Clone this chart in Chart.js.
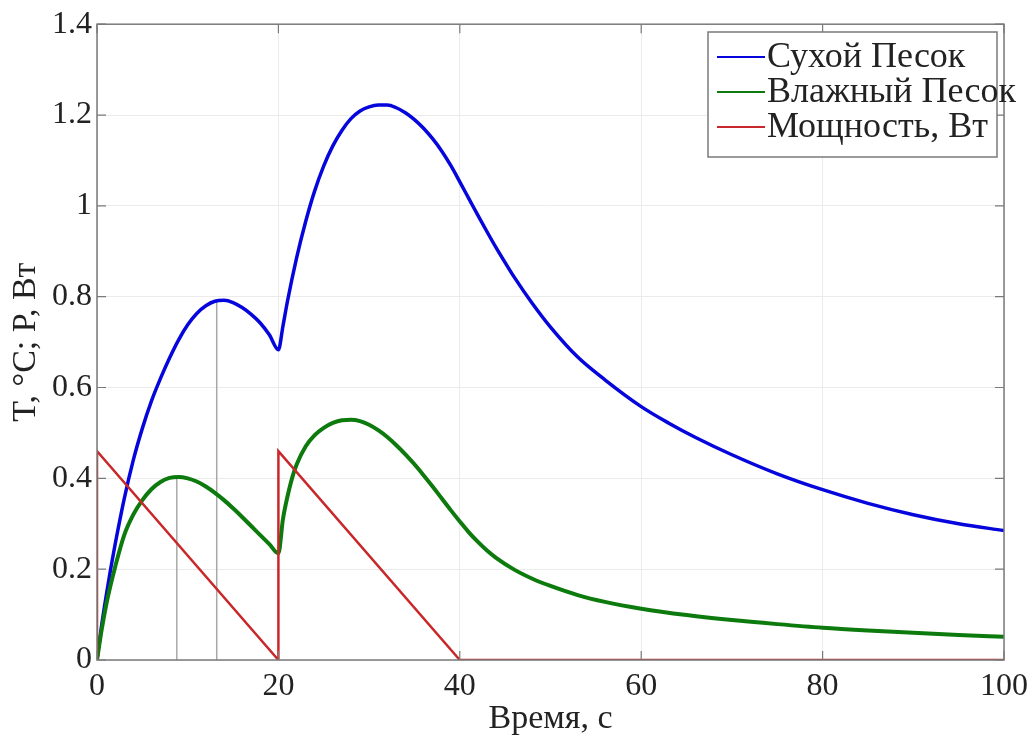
<!DOCTYPE html>
<html>
<head>
<meta charset="utf-8">
<script src="https://cdn.jsdelivr.net/npm/chart.js@4.4.0/dist/chart.umd.min.js"></script>
<style>
  body { margin: 0; background: #fff; }
  #wrap { width: 1036px; height: 736px; position: relative; }
</style>
</head>
<body>
<div id="wrap"><canvas id="chart"></canvas></div>
<script>
// series data
const dryTime = [0, 0.5, 1, 1.5, 2, 3, 4, 5, 6, 7, 8, 9, 10, 11, 12, 13, 14, 15, 16, 17, 18, 19, 20,
  20.5, 21, 22, 23, 24, 25, 26, 27, 28, 29, 30, 31, 32, 33, 34, 35, 36, 37, 38, 39, 40,
  41, 42, 43, 44, 45, 46, 48, 50, 53, 56, 60, 63, 66, 70, 75, 80, 85, 90, 95, 100];
const dryTemp = [0, 0.075, 0.14, 0.2, 0.255, 0.355, 0.44, 0.51, 0.57, 0.62, 0.665, 0.705, 0.738, 0.763, 0.78, 0.79, 0.792, 0.787, 0.776, 0.761, 0.742, 0.716, 0.683,
  0.735, 0.79, 0.885, 0.965, 1.033, 1.088, 1.132, 1.166, 1.192, 1.209, 1.218, 1.222, 1.222, 1.216, 1.205, 1.19, 1.171, 1.148, 1.121, 1.089, 1.053,
  1.016, 0.979, 0.943, 0.908, 0.875, 0.843, 0.785, 0.733, 0.667, 0.617, 0.558, 0.522, 0.49, 0.452, 0.41, 0.375, 0.345, 0.32, 0.30, 0.285];

const wetTime = [0, 0.5, 1, 1.5, 2, 3, 4, 5, 6, 7, 8, 9, 10, 11, 12, 13, 14, 15, 16, 17, 18, 19, 20,
  20.5, 21, 21.5, 22, 23, 24, 25, 26, 27, 28, 29, 30, 31, 32, 33, 34, 35, 36, 37, 38, 39, 40,
  41, 42, 43, 44, 46, 48, 50, 53, 56, 60, 65, 70, 75, 80, 85, 90, 95, 100];
const wetTemp = [0, 0.065, 0.12, 0.165, 0.205, 0.275, 0.32, 0.352, 0.376, 0.392, 0.401, 0.403, 0.4, 0.393, 0.382, 0.368, 0.352, 0.334, 0.315, 0.295, 0.275, 0.255, 0.235,
  0.31, 0.36, 0.4, 0.43, 0.47, 0.495, 0.511, 0.522, 0.528, 0.529, 0.526, 0.518, 0.506, 0.491, 0.473, 0.453, 0.431, 0.407, 0.382, 0.356, 0.33, 0.305,
  0.281, 0.26, 0.241, 0.225, 0.199, 0.179, 0.163, 0.143, 0.128, 0.113, 0.099, 0.088, 0.079, 0.071, 0.065, 0.06, 0.055, 0.051];

const powerTime = [0, 0, 20, 20, 40, 100];
const powerVal = [0, 0.46, 0, 0.46, 0, 0];

// gray markers at the first peaks
const markerTime = [8.8, 13.2];
const markerTop = [0.403, 0.79];

const seriesLabels = ['Сухой Песок', 'Влажный Песок', 'Мощность, Вт'];
const xTicks = [0, 20, 40, 60, 80, 100];
const yTicks = [0, 0.2, 0.4, 0.6, 0.8, 1, 1.2, 1.4];

const FONT = "'Liberation Serif', 'Times New Roman', serif";

function pts(xs, ys) {
  return xs.map((x, i) => ({ x: x, y: ys[i] }));
}

const datasets = [
  {
    label: seriesLabels[0], data: pts(dryTime, dryTemp),
    borderColor: '#0505dc', borderWidth: 3.5, cubicInterpolationMode: 'monotone', order: 2
  },
  {
    label: seriesLabels[1], data: pts(wetTime, wetTemp),
    borderColor: '#0d7a0d', borderWidth: 4, cubicInterpolationMode: 'monotone', order: 1
  },
  {
    label: seriesLabels[2], data: pts(powerTime, powerVal),
    borderColor: '#c8282a', borderWidth: 2.5, tension: 0, order: 0
  }
];
markerTime.forEach((t, i) => {
  datasets.push({
    label: '', data: [{ x: t, y: 0 }, { x: t, y: markerTop[i] }],
    borderColor: '#a8a8a8', borderWidth: 1.5, tension: 0, order: 5
  });
});

// box, inward ticks and legend like the matlab figure
const frame = {
  id: 'frame',
  afterDatasetsDraw(chart) {
    const { ctx, chartArea: a, scales } = chart;
    ctx.save();
    ctx.strokeStyle = '#7a7a7a';
    ctx.lineWidth = 1.5;
    ctx.strokeRect(a.left, a.top, a.right - a.left, a.bottom - a.top);
    ctx.lineWidth = 1.2;
    ctx.beginPath();
    xTicks.forEach(v => {
      const px = scales.x.getPixelForValue(v);
      ctx.moveTo(px, a.bottom); ctx.lineTo(px, a.bottom - 9);
      ctx.moveTo(px, a.top); ctx.lineTo(px, a.top + 9);
    });
    yTicks.forEach(v => {
      const py = scales.y.getPixelForValue(v);
      ctx.moveTo(a.left, py); ctx.lineTo(a.left + 9, py);
      ctx.moveTo(a.right, py); ctx.lineTo(a.right - 9, py);
    });
    ctx.stroke();

    // legend
    const bx = 708, by = 32, bw = 289, bh = 125;
    ctx.fillStyle = '#fff';
    ctx.fillRect(bx, by, bw, bh);
    ctx.strokeStyle = '#7a7a7a';
    ctx.lineWidth = 1.5;
    ctx.strokeRect(bx, by, bw, bh);
    ctx.font = '36px ' + FONT;
    ctx.textBaseline = 'middle';
    chart.data.datasets.slice(0, 3).forEach((ds, i) => {
      const y = 57 + i * 35;
      ctx.strokeStyle = ds.borderColor;
      ctx.lineWidth = 2;
      ctx.beginPath();
      ctx.moveTo(717, y); ctx.lineTo(765, y);
      ctx.stroke();
      ctx.fillStyle = '#222';
      ctx.fillText(ds.label, 767, y + 1);
    });
    ctx.restore();
  }
};

new Chart(document.getElementById('chart'), {
  type: 'line',
  data: { datasets: datasets },
  options: {
    responsive: true,
    maintainAspectRatio: false,
    animation: false,
    layout: { padding: { top: 24, right: 32, left: 0, bottom: 0 } },
    elements: { point: { radius: 0 } },
    plugins: { legend: { display: false }, tooltip: { enabled: false } },
    scales: {
      x: {
        type: 'linear', min: 0, max: 100,
        afterBuildTicks: s => { s.ticks = xTicks.map(v => ({ value: v })); },
        afterFit: s => { s.height = 76; },
        grid: { color: '#ebebeb', lineWidth: 1, drawTicks: false },
        border: { display: false },
        ticks: { color: '#222', font: { family: FONT, size: 32 }, padding: 7, maxRotation: 0 },
        title: { display: true, text: 'Время, с', color: '#222', font: { family: FONT, size: 34, lineHeight: 1 }, padding: { top: 0, bottom: 0 } }
      },
      y: {
        min: 0, max: 1.4,
        afterBuildTicks: s => { s.ticks = yTicks.map(v => ({ value: v })); },
        afterFit: s => { s.width = 97; },
        grid: { color: '#ebebeb', lineWidth: 1, drawTicks: false },
        border: { display: false },
        ticks: { color: '#222', font: { family: FONT, size: 32 }, padding: 5, callback: v => String(v) },
        title: { display: true, text: 'T, °C; P, Вт', color: '#222', font: { family: FONT, size: 34, lineHeight: 1 }, padding: { top: 9, bottom: 0 } }
      }
    }
  },
  plugins: [frame]
});
</script>
</body>
</html>
